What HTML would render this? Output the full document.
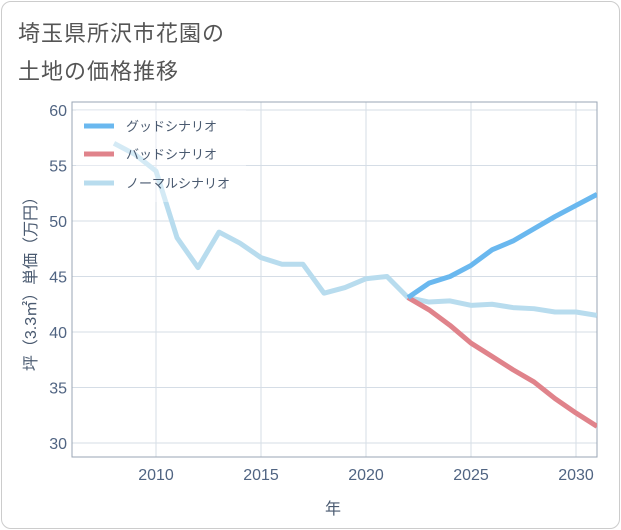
<!DOCTYPE html>
<html><head><meta charset="utf-8">
<style>
body{margin:0;background:#fff;font-family:"Liberation Sans","Noto Sans CJK JP",sans-serif;}
#card{position:absolute;left:1px;top:1px;width:617px;height:526px;border:1px solid #ccc;border-radius:10px;background:#fff;}
.t{position:absolute;left:18px;font-size:22px;color:#555;letter-spacing:1px;}
</style></head><body>
<div id="card"></div>
<div class="t" style="top:16px">埼玉県所沢市花園の</div>
<div class="t" style="top:54px">土地の価格推移</div>
<svg id="c" width="621" height="530" style="position:absolute;left:0;top:0"></svg>
<script>
const years=[2008,2009,2010,2011,2012,2013,2014,2015,2016,2017,2018,2019,2020,2021,2022,2023,2024,2025,2026,2027,2028,2029,2030,2031];
const normalVals=[57,56,54.5,48.5,45.8,49,48,46.7,46.1,46.1,43.5,44,44.8,45,43.1,42.7,42.8,42.4,42.5,42.2,42.1,41.8,41.8,41.5];
const goodYears=[2022,2023,2024,2025,2026,2027,2028,2029,2030,2031];
const goodVals=[43.1,44.4,45,46,47.4,48.2,49.3,50.4,51.4,52.4];
const badVals=[43.1,42,40.6,39,37.8,36.6,35.5,34,32.7,31.5];
const xTicks=[2010,2015,2020,2025,2030];
const yTicks=[30,35,40,45,50,55,60];
const L=72,R=597,T=102,B=457;
const x=v=>L+(v-2006)*(R-L)/25;
const y=v=>443-(v-30)*(443-110)/30;
const svg=document.getElementById('c');const NS='http://www.w3.org/2000/svg';
function mk(t,a,p){const e=document.createElementNS(NS,t);for(const k in a)e.setAttribute(k,a[k]);(p||svg).appendChild(e);return e;}
const cl=mk('clipPath',{id:'pc'});mk('rect',{x:L,y:T,width:R-L,height:B-T},cl);
xTicks.forEach(v=>{const g=mk('line',{x1:x(v),x2:x(v),y1:T,y2:B,stroke:'#d5dde6'});


const t=mk('text',{x:x(v),y:480,'text-anchor':'middle','font-size':16,fill:'#506482'});t.textContent=v;

});
yTicks.forEach(v=>{const g=mk('line',{x1:L,x2:R,y1:y(v),y2:y(v),stroke:'#d5dde6'});


const t=mk('text',{x:67,y:y(v)+6,'text-anchor':'end','font-size':16,fill:'#506482'});t.textContent=v;

});
const fr=mk('rect',{x:L,y:T,width:R-L,height:B-T,fill:'none',stroke:'#9aa6b4'});


function line(xs,vs,col,name){const p=mk('polyline',{points:xs.map((v,i)=>x(v)+','+y(vs[i])).join(' '),fill:'none',stroke:col,'stroke-width':5,'stroke-linejoin':'round','clip-path':'url(#pc)'});

}
line(years,normalVals,'#b8dcee','normal-scenario-line');
line(goodYears,badVals,'#e0838b','bad-scenario-line');
line(goodYears,goodVals,'#6ab8ef','good-scenario-line');
const lg=mk('rect',{x:76,y:110,width:170,height:92,fill:'#fff','fill-opacity':0.4});


[['グッドシナリオ','#6ab8ef',126],['バッドシナリオ','#e0838b',154],['ノーマルシナリオ','#b8dcee',183]].forEach(d=>{
const l=mk('line',{x1:84,x2:114,y1:d[2],y2:d[2],stroke:d[1],'stroke-width':5});


const t=mk('text',{x:126,y:d[2]+5,'font-size':13,fill:'#4a5a70'});t.textContent=d[0];

});
const xt=mk('text',{x:333,y:514,'text-anchor':'middle','font-size':16,fill:'#4a5a70'});xt.textContent='年';


const yt=mk('text',{x:0,y:0,'text-anchor':'middle','font-size':16,fill:'#4a5a70',transform:'translate(36,280) rotate(-90)'});yt.textContent='坪（3.3㎡）単価（万円）';


</script>
</body></html>
